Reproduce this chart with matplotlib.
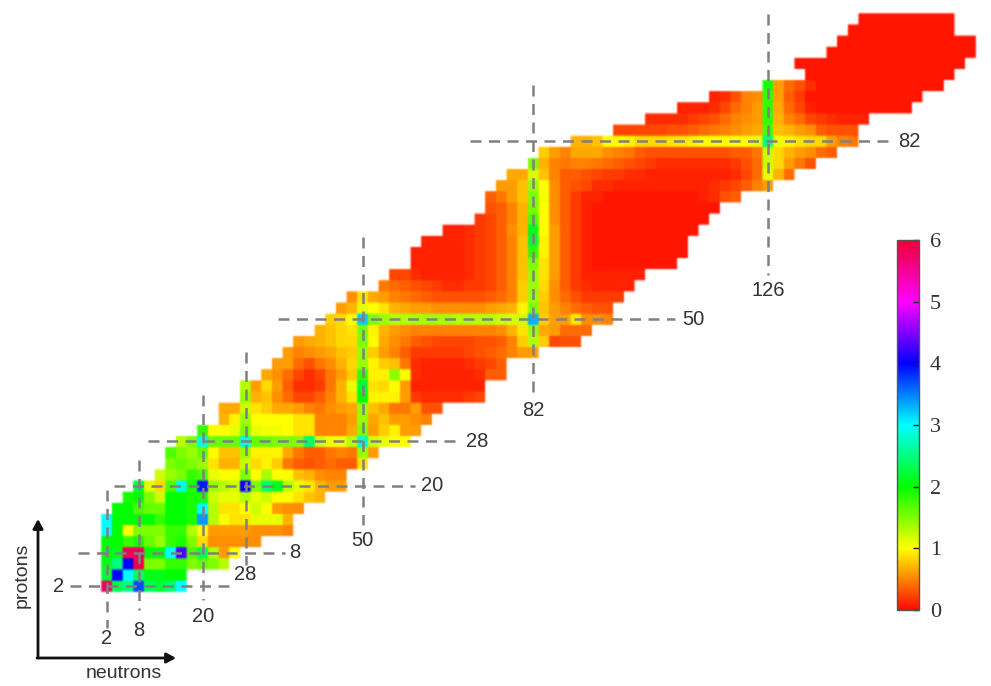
import numpy as np
import matplotlib
matplotlib.use("Agg")
import matplotlib.pyplot as plt
from matplotlib.cm import ScalarMappable
from matplotlib.colors import LinearSegmentedColormap, Normalize

W, H = 991, 686

# first neutron number of every even-Z row
row_start = {2:2,4:2,6:2,8:2,10:2,12:2,14:2,16:4,18:6,20:8,22:12,24:14,26:14,28:16,30:20,32:24,34:24,36:28,38:28,
             40:32,42:34,44:36,46:38,48:42,50:44,52:46,54:48,56:54,58:56,60:60,62:60,64:62,66:66,68:72,70:74,72:74,
             74:76,76:78,78:82,80:84,82:90,84:98,86:104,88:110,90:116,92:126,94:134,96:132,98:138,100:140,102:142,104:144}

z2 = [5.8,2.3,2.5,3.7,2.3,2.2,2.4,3.0]
z4 = [2.2,4.0,3.0,2.4,2.1,2.1,2.0,2.0]
z6 = [2.1,2.5,4.0,5.9,1.5,1.5,1.8,1.8,1.5,1.6,1.5,1.3]
z8 = [2.0,2.1,5.8,5.8,2.0,2.0,3.0,4.3,1.7,2.3,1.3,.6,1.0]
z10 = [2.0,2.0,1.8,1.9,1.6,1.4,1.8,1.9,1.5,.85,.55,.55,.55,.55,.55]
z12 = [3.0,2.0,1.0,1.5,1.5,1.5,1.8,1.8,1.3,1.0,.6,.6,.6,.6,.55,.55,.55,.5]
z14 = [3.0,2.0,2.0,2.0,2.0,1.8,2.0,2.0,1.9,3.4,1.3,1.0,.9,.9,1.1,1.1,1.1,.7]
z16 = [2.0,2.0,1.7,1.6,1.6,2.0,2.0,1.9,3.0,1.3,.9,.9,1.0,1.2,1.0,.6,.55,.55]
z18 = [1.9,2.0,1.5,1.2,2.0,2.0,1.9,1.9,1.2,1.1,1.1,1.3,1.1,1.2,1.0,1.0,.9,.75,.7]
z20 = [2.2,1.1,.85,1.7,2.9,1.9,3.9,1.4,1.3,1.2,4.0,1.5,2.4,2.1,1.3,1.1,.9,.7,.6,.6]
z22 = [1.2,1.4,1.5,1.8,1.7,1.1,1.0,1.0,1.5,1.0,1.35,1.0,1.0,.75,.7,.55,.5,.5]
z24 = [1.5,1.6,1.5,1.4,.9,.7,.7,1.2,.85,.95,.8,.45,.35,.3,.35,.4,.35,.35,.9]
z26 = [1.7,1.5,1.4,1.6,1.0,.75,.75,1.4,.95,.95,.95,.65,.45,.35,.35,.45,.5,.45,1.4,.6]
z28 = [1.3,1.5,2.9,1.6,1.6,1.6,2.9,1.6,1.6,1.5,1.5,1.5,2.4,1.2,1.05,1.05,1.3,2.8,1.2,1.1,1.0,1.0]
z30 = [1.8,1.0,1.0,1.1,1.5,1.1,1.05,1.05,1.0,.9,.9,.5,.5,.5,.65,1.5,.6,.8,.95,.6,.6]
z32 = [.7,.95,1.4,1.0,1.0,1.0,1.0,.9,.9,.5,.5,.5,.6,1.4,.65,.75,.6,.6,.55,.5]
z34 = [.65,.65,1.2,.9,.8,.65,.65,.6,.5,.45,.55,.6,.65,1.4,.75,.65,.45,.45,.6,.3,.3]
z36 = [1.4,.7,.75,.55,.4,.25,.25,.35,.5,.7,.9,2.0,.95,.95,.95,.6,.2,.15,.15,.15,.15,.2,.25]
z38 = [1.3,.6,.85,.6,.35,.15,.15,.2,.45,.7,1.1,2.2,.9,.85,1.0,.6,.1,.1,.1,.1,.1,.1,.1]
z40 = [.65,.55,.4,.25,.15,.25,.45,.6,.8,1.8,.95,.95,1.45,1.0,.15,.1,.1,.1,.1,.1,.15,.35,.35]
z42 = [.6,.6,.4,.3,.45,.55,.7,.85,1.4,.95,.8,.75,.45,.15,.1,.1,.1,.1,.15,.2,.25,.35]
z44 = [.6,.5,.55,.6,.65,.75,.8,1.4,.8,.6,.5,.35,.2,.2,.2,.2,.2,.25,.3,.35,.4,.5,.6,.6]
z46 = [.6,.65,.7,.75,.85,.85,1.5,1.0,.65,.55,.45,.35,.3,.25,.25,.25,.25,.3,.3,.35,.5,.8,1.3,.8,.25,.3,.3]
z48 = [.7,.75,.85,.9,1.5,.95,.7,.6,.55,.5,.5,.5,.5,.5,.5,.5,.5,.55,.7,.9,1.4,.65,.6,.4,.4,.4]
z50 = [.8,.85,1.0,3.2,1.5,1.4,1.3,1.3,1.35,1.35,1.35,1.35,1.3,1.3,1.3,1.3,1.2,1.15,1.2,3.3,.8,.6,.6,.9,.55,.55,.5]
z52 = [.6,.7,1.1,1.0,.9,.7,.65,.6,.6,.55,.55,.55,.55,.55,.6,.65,.7,.95,1.5,.75,.6,.5,.4,.35,.3,.3]
z54 = [.55,.9,.65,.6,.5,.45,.4,.35,.3,.3,.3,.3,.3,.35,.4,.5,.8,1.4,.8,.55,.4,.3,.2,.2,.2,.2]
z56 = [.45,.4,.35,.3,.25,.2,.15,.15,.2,.2,.25,.35,.5,.8,1.4,.85,.55,.35,.2,.15,.1,.1,.1,.1]
z58 = [.25,.25,.15,.1,.1,.1,.1,.15,.2,.25,.35,.5,.75,1.4,.9,.6,.35,.2,.1,.1,.1,.1,.1,.1]
z60 = [.1,.1,.1,.1,.1,.15,.2,.25,.35,.5,.75,1.5,.9,.6,.35,.2,.1,.05,.05,.05,.05,.05,.05,.05,.05]
z62 = [.1,.1,.1,.1,.1,.15,.2,.25,.35,.5,.75,1.8,.95,.6,.35,.2,.1,.05,.05,.05,.05,.05,.05,.05,.05,.05]
z64 = [.1,.1,.1,.1,.15,.2,.25,.35,.5,.75,2.2,.95,.6,.35,.2,.1,.05,.05,.05,.05,.05,.05,.05,.05,.05]
z66 = [.1,.1,.15,.2,.25,.35,.55,.7,2.1,1.0,.6,.35,.2,.1,.05,.05,.05,.05,.05,.05,.05,.05,.05,.05]
z68 = [.2,.25,.35,.5,.7,1.7,1.0,.55,.35,.2,.1,.05,.05,.05,.05,.05,.05,.05,.05,.05,.05,.05]
z70 = [.3,.35,.5,.7,1.55,1.0,.55,.35,.2,.1,.05,.05,.05,.05,.05,.05,.05,.05,.05,.05,.05,.05]
z72 = [.35,.45,.6,.75,1.5,1.05,.55,.35,.2,.1,.1,.05,.05,.05,.05,.05,.05,.05,.05,.05,.1,.15,.3,.35]
z74 = [.6,.6,.75,1.4,1.0,.55,.35,.3,.25,.15,.15,.1,.1,.1,.1,.1,.1,.1,.1,.1,.15,.2,.25,.35,.5,.6]
z76 = [.65,.65,1.15,.75,.5,.35,.35,.3,.25,.2,.2,.15,.15,.1,.1,.1,.1,.1,.1,.1,.1,.15,.25,.4,1.1,.7,.4]
z78 = [1.5,.7,.5,.45,.5,.5,.45,.4,.35,.3,.25,.2,.15,.15,.15,.15,.15,.15,.15,.2,.3,.4,1.2,.85,.6,.45,.3]
z80 = [.8,.6,.5,.65,.65,.65,.55,.5,.45,.35,.3,.3,.3,.3,.3,.3,.3,.3,.35,.35,.45,1.2,.85,.7,.6,.55,.4,.35]
z82 = [.7,.7,.75,1.0,1.0,.95,.85,.85,.85,.9,.9,.95,1.0,1.0,1.0,1.0,1.0,1.1,2.5,1.05,.95,.9,.85,.85,.6,.5,.45]
z84 = [.25,.25,.25,.25,.25,.3,.3,.35,.4,.45,.5,.55,.6,.65,1.7,.75,.7,.6,.55,.35,.3,.3,.3]
z86 = [.15,.15,.15,.15,.2,.25,.3,.4,.5,.55,.6,1.8,.7,.5,.4,.25,.2,.15,.1,.1,.1]
z88 = [.1,.1,.1,.15,.25,.4,.5,.6,1.8,.65,.4,.25,.1,.05,.05,.05,.05,.05,.05,.05,.05,.05]
z90 = [.1,.15,.3,.5,.55,1.8,.6,.35,.2,.05,.05,.05,.05,.05,.05,.05,.05,.05,.05,.05]
z92 = [1.9,.6,.4,.3,.15,.05,.05,.05,.05,.05,.05,.05,.05,.05,.05,.05,.05]
z94 = [.05,.05,.05,.05,.05,.05,.05,.05,.05,.05,.05,.05,.05,.05]
z96 = [.05,.05,.05,.05,.05,.05,.05,.05,.05,.05,.05,.05,.05,.05,.05,.05]
z98 = [.05,.05,.05,.05,.05,.05,.05,.05,.05,.05,.05,.05,.05,.05]
z100 = [.05,.05,.05,.05,.05,.05,.05,.05,.05,.05,.05,.05,.05]
z102 = [.05,.05,.05,.05,.05,.05,.05,.05,.05,.05]
z104 = [.05,.05,.05,.05,.05,.05,.05,.05,.05]

row_values = {2:z2,4:z4,6:z6,8:z8,10:z10,12:z12,14:z14,16:z16,18:z18,20:z20,22:z22,24:z24,26:z26,28:z28,30:z30,
              32:z32,34:z34,36:z36,38:z38,40:z40,42:z42,44:z44,46:z46,48:z48,50:z50,52:z52,54:z54,56:z56,58:z58,
              60:z60,62:z62,64:z64,66:z66,68:z68,70:z70,72:z72,74:z74,76:z76,78:z78,80:z80,82:z82,84:z84,86:z86,
              88:z88,90:z90,92:z92,94:z94,96:z96,98:z98,100:z100,102:z102,104:z104}

magic_n = [2, 8, 20, 28, 50, 82, 126]
magic_z = [2, 8, 20, 28, 50, 82]
cbar_ticks = [0, 1, 2, 3, 4, 5, 6]

# pixel layout of the picture
PX_N, PX_Z = 5.33, 5.56
X0, Y0 = 107.0, 586.0
def nx(px): return 2 + (px - X0) / PX_N
def zy(py): return 2 + (Y0 - py) / PX_Z

# vertical guide: y top, y bottom, label y
v_style = {2:(490,628,639), 8:(460,610,630), 20:(395,600,616), 28:(352,565,574), 50:(237,525,540), 82:(85,395,410), 126:(14,275,291)}
# horizontal guide: x left, x right, label x
h_style = {2:(70,232,59), 8:(78,285,295), 20:(114,415,432), 28:(148,460,477), 50:(278,675,693), 82:(470,893,909)}

cmap = LinearSegmentedColormap.from_list("he", [(0,"#ff0a00"),(1/6,"#ffff00"),(2/6,"#00ff00"),(3/6,"#00ffff"),
                                                (4/6,"#0000ff"),(5/6,"#ff00ff"),(1,"#ee0033")], N=512)
norm = Normalize(0, 6)

plt.rcParams['font.family'] = ['Liberation Sans', 'DejaVu Sans']
fig = plt.figure(figsize=(W/100, H/100), dpi=100, facecolor="white")
ax = fig.add_axes([0, 0, 1, 1])

n_edges = np.arange(-3, 171, 2)      # two empty cells of margin on each side
z_edges = np.arange(-3, 111, 2)
grid = np.full((len(z_edges)-1, len(n_edges)-1), np.nan)
for z, vals in row_values.items():
    i = (z + 2) // 2
    j0 = (row_start[z] + 2) // 2
    grid[i, j0:j0+len(vals)] = vals

# cells -> colours, with the slight softening of the scanned reference
rgb = cmap(norm(np.nan_to_num(grid)))[..., :3]
rgb[np.isnan(grid)] = 1.0
F = 10
rgb = np.repeat(np.repeat(rgb, F, axis=0), F, axis=1)
for axis in (0, 1):
    rgb = (np.roll(rgb, 1, axis) + 2*rgb + np.roll(rgb, -1, axis)) / 4
ax.imshow(rgb, origin="lower", extent=(n_edges[0], n_edges[-1], z_edges[0], z_edges[-1]),
          aspect="auto", interpolation="antialiased", zorder=1)
ax.set_xlim(nx(0), nx(W))
ax.set_ylim(zy(H), zy(0))
ax.axis("off")

guide = dict(color="#808080", lw=1.8, dashes=(4.4, 3.0), zorder=3)
txt = dict(color="#333333", fontsize=14.5, ha="center", va="center", zorder=4)
for n in magic_n:
    t, b, lab = v_style[n]
    ax.plot([n, n], [zy(t), zy(b)], **guide)
    ax.text(n, zy(lab), str(n), **txt)
for z in magic_z:
    l, r, lab = h_style[z]
    ax.plot([nx(l), nx(r)], [z, z], **guide)
    ax.text(nx(lab), z, str(z), **txt)

# axis arrows
arrow = dict(arrowstyle="-|>,head_width=0.3,head_length=0.55", color="#111111", lw=2, shrinkA=0, shrinkB=0)
ax.annotate("", xy=(nx(38), zy(519)), xytext=(nx(38), zy(658)), arrowprops=arrow, zorder=5)
ax.annotate("", xy=(nx(176), zy(658)), xytext=(nx(37), zy(658)), arrowprops=arrow, zorder=5)
label = dict(txt, fontsize=14)
ax.text(nx(22), zy(575), "protons", rotation=90, **label)
ax.text(nx(124), zy(674), "neutrons", **label)

# colour bar
cax = fig.add_axes([897/W, 1-610/H, 22/W, 370/H])
cb = fig.colorbar(ScalarMappable(norm=norm, cmap=cmap), cax=cax, ticks=cbar_ticks)
cb.outline.set_edgecolor("#555555")
cb.outline.set_linewidth(1)
cax.tick_params(axis="y", direction="in", length=4, width=1, color="#222222", pad=8)
for t in cax.get_yticklabels():
    t.set_fontfamily("Liberation Serif")
    t.set_fontsize(16)
    t.set_color("#333333")

fig.savefig("out.png", dpi=100, facecolor="white")
